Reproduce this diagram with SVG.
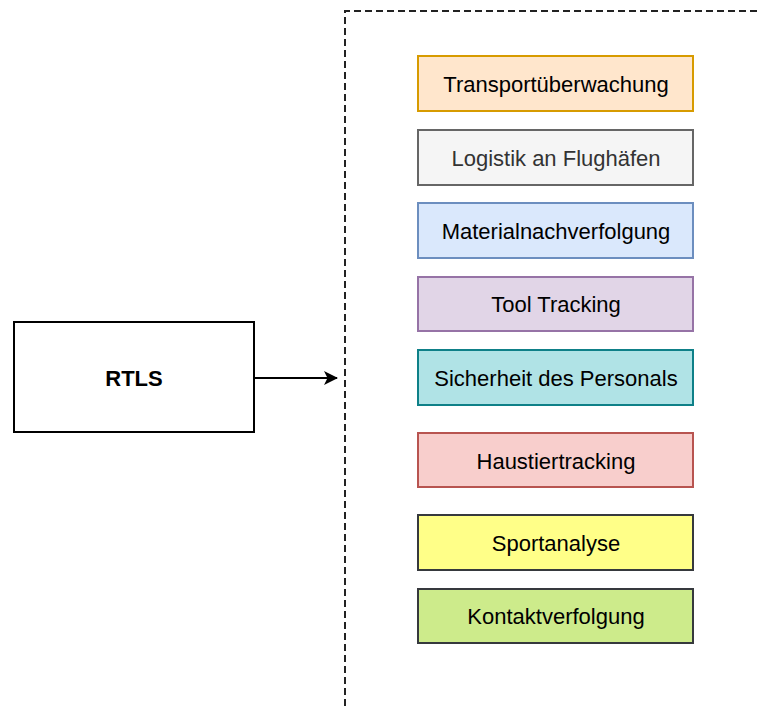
<svg xmlns="http://www.w3.org/2000/svg" width="759" height="706" viewBox="0 0 759 706">
  <defs>
    <marker id="arrow" viewBox="0 0 14 14" refX="13" refY="7" markerWidth="14" markerHeight="14" markerUnits="userSpaceOnUse" orient="auto">
      <path d="M0,0 L14,7 L0,14 L3.5,7 Z" fill="#000"/>
    </marker>
    <style>
      rect { stroke-width: 2; }
      text { font-family: "Liberation Sans", Arial, sans-serif; font-size: 22px; fill: #000; text-anchor: middle; dominant-baseline: central; }
      .frame { fill: none; stroke: #222; stroke-width: 2; stroke-dasharray: 7 4; }
      .edge { fill: none; stroke: #000; stroke-width: 2; }
    </style>
  </defs>
  <rect width="759" height="706" fill="#fff"/>

  <!-- dashed container -->
  <path class="frame" d="M345,706 L345,11 L759,11"/>

  <g id="rtls">
    <rect x="14" y="322" width="240" height="110" fill="#fff" stroke="#000"/>
    <text x="134" y="378" font-weight="bold">RTLS</text>
  </g>

  <g id="transport">
    <rect x="418" y="56" width="275" height="55" fill="#ffe6cc" stroke="#d79b00"/>
    <text x="556" y="84">Transportüberwachung</text>
  </g>
  <g id="logistik">
    <rect x="418" y="130" width="275" height="55" fill="#f5f5f5" stroke="#666666"/>
    <text x="556" y="158" style="fill:#333333">Logistik an Flughäfen</text>
  </g>
  <g id="material">
    <rect x="418" y="203" width="275" height="55" fill="#dae8fc" stroke="#6c8ebf"/>
    <text x="556" y="231">Materialnachverfolgung</text>
  </g>
  <g id="tool">
    <rect x="418" y="277" width="275" height="54" fill="#e1d5e7" stroke="#9673a6"/>
    <text x="556" y="304">Tool Tracking</text>
  </g>
  <g id="sicherheit">
    <rect x="418" y="350" width="275" height="55" fill="#b0e3e6" stroke="#0e8088"/>
    <text x="556" y="378">Sicherheit des Personals</text>
  </g>
  <g id="haustier">
    <rect x="418" y="433" width="275" height="54" fill="#f8cecc" stroke="#b85450"/>
    <text x="556" y="461">Haustiertracking</text>
  </g>
  <g id="sport">
    <rect x="418" y="515" width="275" height="55" fill="#ffff88" stroke="#36393d"/>
    <text x="556" y="543">Sportanalyse</text>
  </g>
  <g id="kontakt">
    <rect x="418" y="589" width="275" height="54" fill="#cdeb8b" stroke="#36393d"/>
    <text x="556" y="616">Kontaktverfolgung</text>
  </g>

  <g id="connectors">
    <path class="edge" d="M254,378 L337,378" marker-end="url(#arrow)"/>
  </g>
</svg>
